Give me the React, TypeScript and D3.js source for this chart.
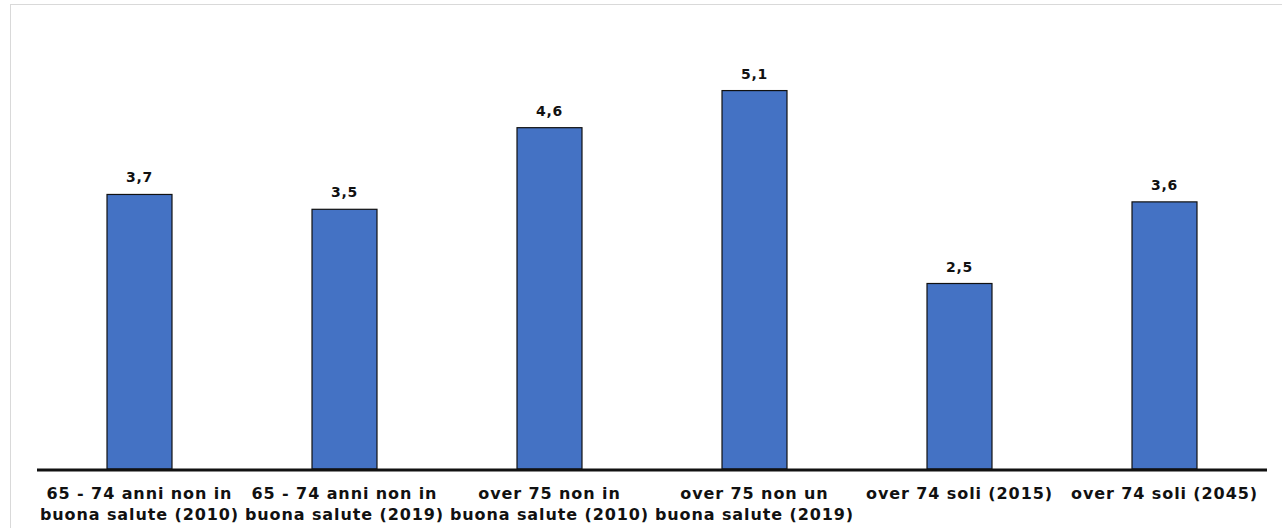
import React from "react";
import * as d3 from "d3";

const categories: string[][] = [
  ["65 - 74 anni non in", "buona salute (2010)"],
  ["65 - 74 anni non in", "buona salute (2019)"],
  ["over 75 non in", "buona salute (2010)"],
  ["over 75 non un", "buona salute (2019)"],
  ["over 74 soli (2015)"],
  ["over 74 soli (2045)"],
];
const values: number[] = [3.7, 3.5, 4.6, 5.1, 2.5, 3.6];

const W = 1282;
const H = 528;
const FONT = "'DejaVu Sans', Verdana, sans-serif";

export default function App() {
  const x = d3
    .scaleBand<number>()
    .domain(values.map((_, i) => i))
    .range([37, 1267])
    .paddingInner(0.683)
    .paddingOuter(0.3415);
  const y = d3.scaleLinear().domain([0, 6]).range([469, 469 - 6 * 74.2]);
  const fmt = (v: number) => v.toFixed(1).replace(".", ",");

  return (
    <svg
      width={W}
      height={H}
      style={{ position: "absolute", left: 0, top: 0, background: "#fff" }}
    >
      <rect x={10.5} y={4.5} width={1280} height={540} fill="#fff" stroke="#d9d9d9" strokeWidth={1} />
      {values.map((v, i) => (
        <g key={i}>
          <rect
            x={x(i)!}
            y={y(v)}
            width={x.bandwidth()}
            height={y(0) - y(v)}
            fill="#4472C4"
            stroke="#111"
            strokeWidth={1.2}
          />
          <text
            x={x(i)! + x.bandwidth() / 2}
            y={y(v) - 12}
            textAnchor="middle"
            fontFamily={FONT}
            fontWeight="bold"
            fontSize={14}
            letterSpacing={0.8}
            fill="#111"
          >
            {fmt(v)}
          </text>
          {categories[i].map((line, j) => (
            <text
              key={j}
              x={x(i)! + x.bandwidth() / 2}
              y={499 + j * 21}
              textAnchor="middle"
              fontFamily={FONT}
              fontWeight="bold"
              fontSize={16}
              letterSpacing={0.9}
              fill="#111"
            >
              {line}
            </text>
          ))}
        </g>
      ))}
      <line x1={37} x2={1267} y1={470} y2={470} stroke="#111" strokeWidth={3} />
    </svg>
  );
}
